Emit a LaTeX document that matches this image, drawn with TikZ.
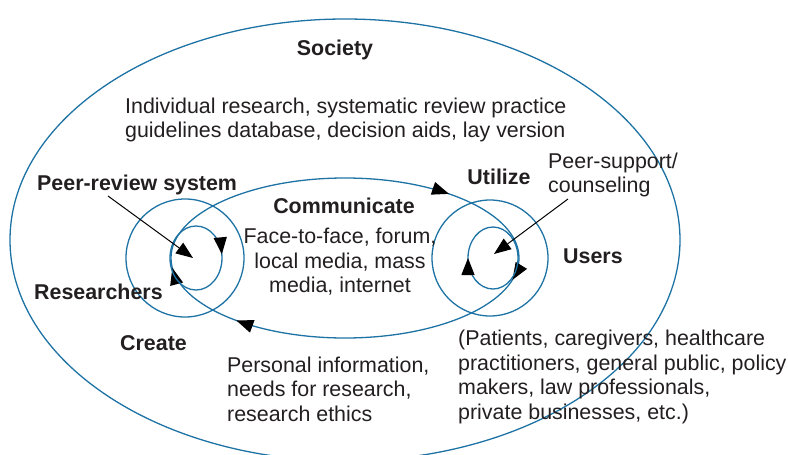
\documentclass[tikz,border=0pt]{standalone}
\usepackage{fontspec}
\setmainfont{Liberation Sans}
\usetikzlibrary{arrows.meta,decorations.markings}

\definecolor{ringblue}{RGB}{30,115,165}
\definecolor{inkgray}{RGB}{35,31,32}
\newcommand{\flowtip}{\arrowreversed[black]{Triangle[length=17pt,width=13pt]}}

\tikzset{
  ring/.style={draw=ringblue,line width=1.3pt},
  lbl/.style={font=\fontsize{21.4}{24.5}\selectfont\bfseries,text=inkgray,inner sep=0pt},
  txt/.style={font=\fontsize{21.4}{24.5}\selectfont,text=inkgray,inner sep=0pt,align=left},
  pointer/.style={draw=black,line width=1pt,-{Triangle[length=17pt,width=13pt]}}
}

\begin{document}
\begin{tikzpicture}[x=1pt,y=-1pt]
\useasboundingbox (0,0) rectangle (788,455);

% society
\draw[ring] (345,240) ellipse [x radius=335pt, y radius=221pt];

% communicate loop
\draw[ring,postaction={decorate},decoration={markings,
  mark=at position 0.122 with {\flowtip},
  mark=at position 0.512 with {\flowtip},
  mark=at position 0.616 with {\flowtip},
  mark=at position 0.972 with {\flowtip}}]
  (345,258) ellipse [x radius=174pt, y radius=80pt];

% researchers
\draw[ring] (185,258) circle [radius=59pt];
\draw[ring,postaction={decorate},decoration={markings,
  mark=at position 0.02 with {\flowtip}}]
  (196,258) ellipse [x radius=26pt, y radius=32pt];

% users
\draw[ring] (490,258) circle [radius=58pt];
\draw[ring,postaction={decorate},decoration={markings,
  mark=at position 0.5 with {\flowtip}}]
  (493,258) ellipse [x radius=25pt, y radius=31pt];

% labels
\node[lbl] (society) at (335,50) {Society};
\node[txt,anchor=west] (products) at (125,120)
  {Individual research, systematic review practice\\guidelines database, decision aids, lay version};
\node[lbl,anchor=west] (peerrev) at (37,185) {Peer-review system};
\node[lbl] (communicate) at (344,206) {Communicate};
\node[txt,align=center] (media) at (340,262) {Face-to-face, forum,\\local media, mass\\media, internet};
\node[lbl] (utilize) at (499,177) {Utilize};
\node[txt,anchor=west] (peersup) at (548,175) {Peer-support/\\counseling};
\node[lbl,anchor=west] (users) at (563,256) {Users};
\node[lbl,anchor=west] (researchers) at (34,292) {Researchers};
\node[lbl,anchor=west] (create) at (120,343) {Create};
\node[txt,anchor=west] (needs) at (227,389)
  {Personal information,\\needs for research,\\research ethics};
\node[txt,anchor=west] (userlist) at (458,377)
  {(Patients, caregivers, healthcare\\practitioners, general public, policy\\makers, law professionals,\\private businesses, etc.)};

% pointers
\coordinate (prfrom) at (108,196);
\coordinate (prto) at (193,258);
\coordinate (psfrom) at (568,199);
\coordinate (psto) at (494,254);
\draw[pointer] (prfrom) -- (prto);
\draw[pointer] (psfrom) -- (psto);
\end{tikzpicture}
\end{document}
